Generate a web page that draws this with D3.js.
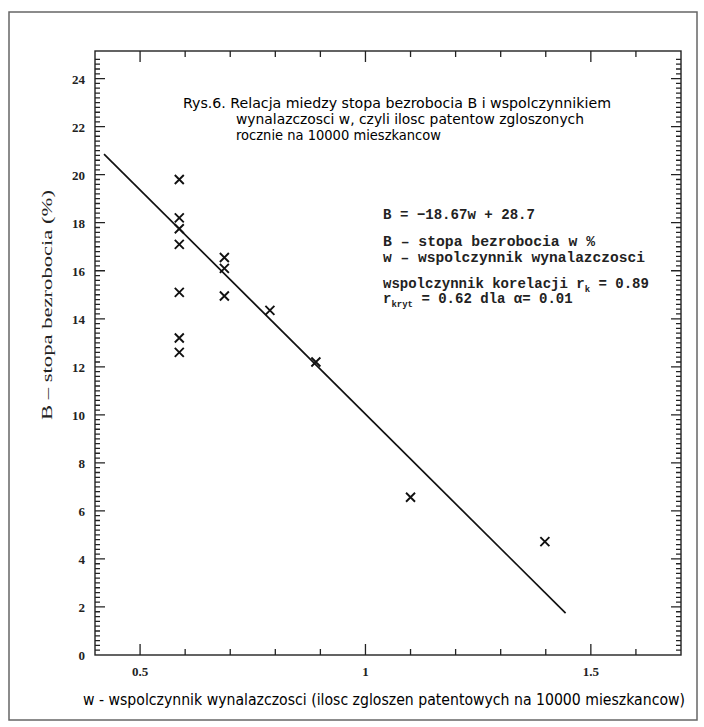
<!DOCTYPE html>
<html>
<head>
<meta charset="utf-8">
<script src="https://cdn.jsdelivr.net/npm/d3@7"></script>
<style>
  body { margin: 0; background: #fff; }
  svg { display: block; }
  .serif { font-family: "Liberation Serif", "DejaVu Serif", serif; }
  .narrow { font-family: "Liberation Sans Narrow", "DejaVu Sans Condensed", "Liberation Sans", sans-serif; }
  .mono { font-family: "Liberation Mono", "DejaVu Sans Mono", monospace; }
</style>
</head>
<body>
<div id="chart"></div>
<script>
// data
const wValues = [0.587, 0.587, 0.587, 0.587, 0.587, 0.587, 0.587, 0.687, 0.687, 0.687, 0.788, 0.89, 1.10, 1.398];
const bValues = [19.8, 18.2, 17.75, 17.1, 15.1, 13.2, 12.6, 16.55, 16.1, 14.95, 14.35, 12.2, 6.57, 4.72];

// fitted line B = -18.67w + 28.7, drawn between these w values
const slope = -18.67;
const intercept = 28.7;
const lineW = [0.42, 1.444];

const xMajor = [0.5, 1, 1.5];
const xMajorLabels = ['0.5', '1', '1.5'];
const yMajor = [0, 2, 4, 6, 8, 10, 12, 14, 16, 18, 20, 22, 24];

const titleLines = [
    'Rys.6. Relacja miedzy stopa bezrobocia B i wspolczynnikiem',
    'wynalazczosci w, czyli ilosc patentow zgloszonych',
    'rocznie na 10000 mieszkancow'
];

const width = 704, height = 727;
const frame = { left: 95, right: 681, top: 51, bottom: 655 };

const svg = d3.select('#chart')
    .append('svg')
    .attr('width', width)
    .attr('height', height);

// scanned sheet border
svg.append('rect')
    .attr('x', 9).attr('y', 12)
    .attr('width', 688).attr('height', 708)
    .attr('fill', 'none')
    .attr('stroke', '#666')
    .attr('stroke-width', 1.5);

const x = d3.scaleLinear().domain([0.4, 1.7]).range([frame.left, frame.right]);
const y = d3.scaleLinear().domain([0, 25.15]).range([frame.bottom, frame.top]);

// frame
svg.append('rect')
    .attr('x', frame.left).attr('y', frame.top)
    .attr('width', frame.right - frame.left)
    .attr('height', frame.bottom - frame.top)
    .attr('fill', 'none')
    .attr('stroke', '#222')
    .attr('stroke-width', 1.4);

// inward ticks on all four sides, one path per set
const xMinor = d3.range(5, 17).map(d => d / 10).filter(d => !xMajor.includes(d));
const yMinor = d3.range(1, 126).map(d => d / 5).filter(d => d < 25 && Math.abs(d / 2 - Math.round(d / 2)) > 0.01);

function xTickPath(values, len) {
    return values.map(d => {
        const px = x(d);
        return `M${px},${frame.bottom}V${frame.bottom - len}M${px},${frame.top}V${frame.top + len}`;
    }).join('');
}
function yTickPath(values, len) {
    return values.map(d => {
        const py = y(d);
        return `M${frame.left},${py}H${frame.left + len}M${frame.right},${py}H${frame.right - len}`;
    }).join('');
}

const tickPaths = [
    xTickPath(xMinor, 6),
    xTickPath(xMajor, 11),
    yTickPath(yMinor, 5),
    yTickPath(yMajor.filter(d => d > 0), 10)
];
svg.append('g').selectAll('path')
    .data(tickPaths)
    .enter()
    .append('path')
    .attr('d', d => d)
    .attr('fill', 'none')
    .attr('stroke', '#222')
    .attr('stroke-width', 1.3);

// tick labels
svg.append('g').selectAll('text')
    .data(yMajor)
    .enter()
    .append('text')
    .attr('class', 'serif')
    .attr('x', frame.left - 10)
    .attr('y', d => y(d) + 5)
    .attr('text-anchor', 'end')
    .attr('font-size', 13)
    .attr('font-weight', 'bold')
    .attr('fill', '#222')
    .text(d => d);

svg.append('g').selectAll('text')
    .data(xMajor)
    .enter()
    .append('text')
    .attr('class', 'serif')
    .attr('x', d => x(d))
    .attr('y', frame.bottom + 21)
    .attr('text-anchor', 'middle')
    .attr('font-size', 13)
    .attr('font-weight', 'bold')
    .attr('fill', '#222')
    .text((d, i) => xMajorLabels[i]);

// axis titles
svg.append('text')
    .attr('class', 'narrow')
    .attr('x', 83)
    .attr('y', 705)
    .attr('font-size', 15)
    .attr('textLength', 602)
    .attr('lengthAdjust', 'spacingAndGlyphs')
    .attr('fill', '#000')
    .text('w - wspolczynnik wynalazczosci (ilosc zgloszen patentowych na 10000 mieszkancow)');

svg.append('text')
    .attr('class', 'serif')
    .attr('transform', 'translate(52,305) rotate(-90)')
    .attr('text-anchor', 'middle')
    .attr('font-size', 15)
    .attr('textLength', 230)
    .attr('lengthAdjust', 'spacingAndGlyphs')
    .attr('fill', '#222')
    .text('B \u2013 stopa bezrobocia (%)');

// chart title
const titleX = [183, 236, 236];
const titleLen = [428, 348, 205];
svg.append('g').selectAll('text')
    .data(titleLines)
    .enter()
    .append('text')
    .attr('class', 'narrow')
    .attr('x', (d, i) => titleX[i])
    .attr('y', (d, i) => 108 + i * 16)
    .attr('font-size', 13.5)
    .attr('textLength', (d, i) => titleLen[i])
    .attr('lengthAdjust', 'spacingAndGlyphs')
    .attr('fill', '#000')
    .text(d => d);

// equation block
const eq = svg.append('g').attr('class', 'mono').attr('fill', '#222').attr('font-weight', 'bold');
eq.append('text').attr('x', 383).attr('y', 219).attr('font-size', 15)
    .attr('textLength', 152).attr('lengthAdjust', 'spacingAndGlyphs')
    .text('B = \u221218.67w + 28.7');
eq.append('text').attr('x', 383).attr('y', 246).attr('font-size', 14)
    .attr('textLength', 212).attr('lengthAdjust', 'spacingAndGlyphs')
    .text('B \u2013 stopa bezrobocia w %');
eq.append('text').attr('x', 383).attr('y', 262).attr('font-size', 14)
    .attr('textLength', 262).attr('lengthAdjust', 'spacingAndGlyphs')
    .text('w \u2013 wspolczynnik wynalazczosci');
const r1 = eq.append('text').attr('x', 383).attr('y', 288).attr('font-size', 14);
r1.append('tspan').text('wspolczynnik korelacji r');
r1.append('tspan').attr('font-size', 9).attr('dy', 4).text('k');
r1.append('tspan').attr('dy', -4).text(' = 0.89');
const r2 = eq.append('text').attr('x', 383).attr('y', 303).attr('font-size', 14);
r2.append('tspan').text('r');
r2.append('tspan').attr('font-size', 9).attr('dy', 4).text('kryt');
r2.append('tspan').attr('dy', -4).text(' = 0.62 dla \u03b1= 0.01');

// regression line
const line = d3.line()
    .x(d => x(d))
    .y(d => y(slope * d + intercept));
svg.append('path')
    .datum(lineW)
    .attr('d', line)
    .attr('fill', 'none')
    .attr('stroke', '#111')
    .attr('stroke-width', 1.7);

// x markers
const pts = wValues.map((w, i) => ({ w, b: bValues[i] }));
const s = 4.5;
svg.append('g').selectAll('path')
    .data(pts)
    .enter()
    .append('path')
    .attr('d', d => {
        const cx = x(d.w), cy = y(d.b);
        return `M${cx - s},${cy - s}L${cx + s},${cy + s}M${cx - s},${cy + s}L${cx + s},${cy - s}`;
    })
    .attr('stroke', '#111')
    .attr('stroke-width', 1.9);
</script>
</body>
</html>
